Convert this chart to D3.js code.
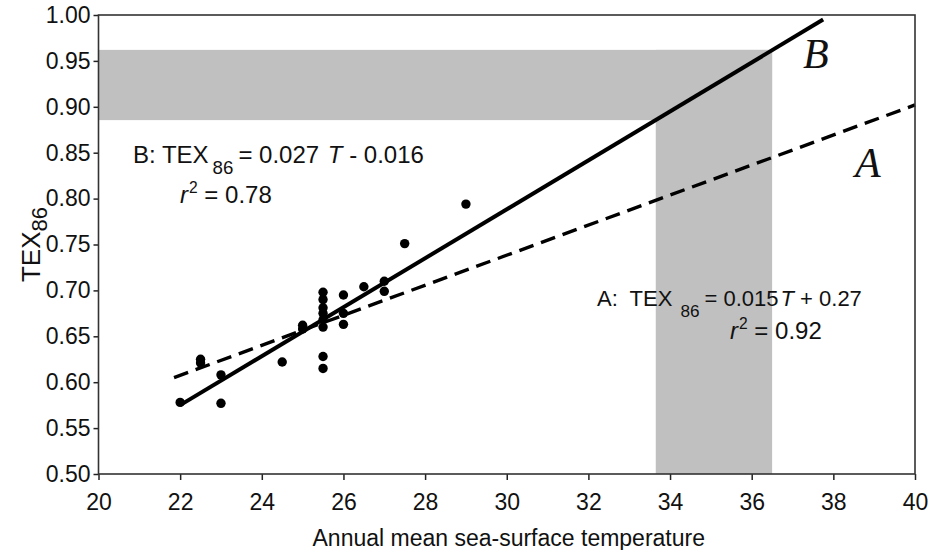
<!DOCTYPE html>
<html><head><meta charset="utf-8">
<script src="https://cdn.jsdelivr.net/npm/d3@7/dist/d3.min.js"></script>
<style>body{margin:0;background:#fff}svg{display:block}text{white-space:pre}</style>
</head><body><svg id="c" width="935" height="550"></svg>
<script>
// ---- data ----
const xTicks = [20, 22, 24, 26, 28, 30, 32, 34, 36, 38, 40];
const yTicks = [0.50, 0.55, 0.60, 0.65, 0.70, 0.75, 0.80, 0.85, 0.90, 0.95, 1.00];
const sst = [22.0, 22.5, 22.5, 23.0, 23.0, 24.5, 25.0, 25.0,
             25.5, 25.5, 25.5, 25.5, 25.5, 25.5, 25.5, 25.5,
             26.0, 26.0, 26.0, 26.5, 27.0, 27.0, 27.5, 29.0];
const tex = [0.578, 0.625, 0.621, 0.608, 0.577, 0.622, 0.662, 0.658,
             0.698, 0.690, 0.681, 0.675, 0.668, 0.660, 0.628, 0.615,
             0.695, 0.675, 0.663, 0.704, 0.710, 0.699, 0.751, 0.794];
const lineA_T = [21.85, 40.0];
const lineA_TEX = [0.605, 0.902];
const lineB_T = [22.0, 37.75];
const lineB_TEX = [0.575, 0.995];
const bandT = [33.65, 36.5];
const bandTEX = [0.8855, 0.962];

// ---- layout ----
const svg = d3.select("#c");
const L = 98.5, R = 915, T = 15, B = 474;
const x = d3.scaleLinear().domain([20, 40]).range([L, R]);
const y = d3.scaleLinear().domain([0.5, 1.0]).range([B, T]);
const sans = "'Liberation Sans', Arial, sans-serif";
const serif = "'Liberation Serif', 'Times New Roman', serif";

// grey bands
svg.append("rect")
  .attr("x", x(20)).attr("y", y(bandTEX[1]))
  .attr("width", x(bandT[1]) - x(20))
  .attr("height", y(bandTEX[0]) - y(bandTEX[1]))
  .attr("fill", "#c0c0c0");
svg.append("rect")
  .attr("x", x(bandT[0])).attr("y", y(bandTEX[1]))
  .attr("width", x(bandT[1]) - x(bandT[0]))
  .attr("height", y(0.5) - y(bandTEX[1]))
  .attr("fill", "#c0c0c0");

// regression lines
const line = d3.line().x(d => x(d[0])).y(d => y(d[1]));
svg.append("path")
  .attr("d", line(d3.zip(lineA_T, lineA_TEX)))
  .attr("fill", "none").attr("stroke", "#000").attr("stroke-width", 3.4)
  .attr("stroke-dasharray", "15,8");
svg.append("path")
  .attr("d", line(d3.zip(lineB_T, lineB_TEX)))
  .attr("fill", "none").attr("stroke", "#000").attr("stroke-width", 4);

// points
svg.append("g").selectAll("circle").data(d3.zip(sst, tex)).join("circle")
  .attr("cx", d => x(d[0])).attr("cy", d => y(d[1])).attr("r", 4.7)
  .attr("fill", "#000");

// axes
const ax = svg.append("g").attr("transform", `translate(0,${B})`)
  .call(d3.axisBottom(x).tickValues(xTicks).tickSize(6).tickPadding(14).tickFormat(d3.format("d")));
const ay = svg.append("g").attr("transform", `translate(${L},0)`)
  .call(d3.axisLeft(y).tickValues(yTicks).tickSize(5).tickPadding(3).tickFormat(d3.format(".2f")));
[ax, ay].forEach(g => {
  g.select(".domain").remove();
  g.selectAll(".tick line").attr("stroke", "#222").attr("stroke-width", 1.5);
  g.selectAll("text").attr("font-family", sans).attr("font-size", 23).attr("fill", "#111");
});
// frame
svg.append("rect").attr("x", L).attr("y", T).attr("width", R - L).attr("height", B - T)
  .attr("fill", "none").attr("stroke", "#333").attr("stroke-width", 1.6);

// axis titles
svg.append("text").attr("x", (L + R) / 2 + 2).attr("y", 546).attr("text-anchor", "middle")
  .attr("font-family", sans).attr("font-size", 23).attr("fill", "#111")
  .text("Annual mean sea-surface temperature");
const yt = svg.append("text").attr("transform", `translate(40,${y(0.75)}) rotate(-90)`)
  .attr("text-anchor", "middle").attr("font-family", sans).attr("font-size", 26).attr("fill", "#111");
yt.append("tspan").text("TEX");
yt.append("tspan").attr("font-size", 22).attr("dy", 7).text("86");

// equations
function eq(x0, y0, fs, subDx, label, coef, rest) {
  const t = svg.append("text").attr("x", x0).attr("y", y0)
    .attr("font-family", sans).attr("font-size", fs).attr("fill", "#111");
  t.append("tspan").text(label + "TEX");
  t.append("tspan").attr("font-size", fs * 0.78).attr("dx", subDx).attr("dy", 11).text("86");
  t.append("tspan").attr("dx", 5).attr("dy", -11).text("= " + coef);
  t.append("tspan").attr("font-style", "italic").attr("dx", 2).text("T");
  t.append("tspan").text(rest);
}
eq(133, 163, 24, 4, "B: ", "0.027 ", " - 0.016");
eq(597, 306, 22, 8, "A:  ", "0.015", " + 0.27");
function r2(x0, y0, fs, v) {
  const t = svg.append("text").attr("x", x0).attr("y", y0)
    .attr("font-family", sans).attr("font-size", fs).attr("fill", "#111");
  t.append("tspan").attr("font-style", "italic").text("r");
  t.append("tspan").attr("font-size", fs * 0.65).attr("dx", 1).attr("dy", -10).text("2");
  t.append("tspan").attr("dy", 10).text(" = " + v);
}
r2(180, 203, 24, "0.78");
r2(730, 339, 24, "0.92");

// line letters
svg.append("text").attr("x", 803).attr("y", 68).attr("font-family", serif)
  .attr("font-style", "italic").attr("font-size", 42).attr("fill", "#111").text("B");
svg.append("text").attr("x", 855).attr("y", 177).attr("font-family", serif)
  .attr("font-style", "italic").attr("font-size", 42).attr("fill", "#111").text("A");
</script></body></html>
